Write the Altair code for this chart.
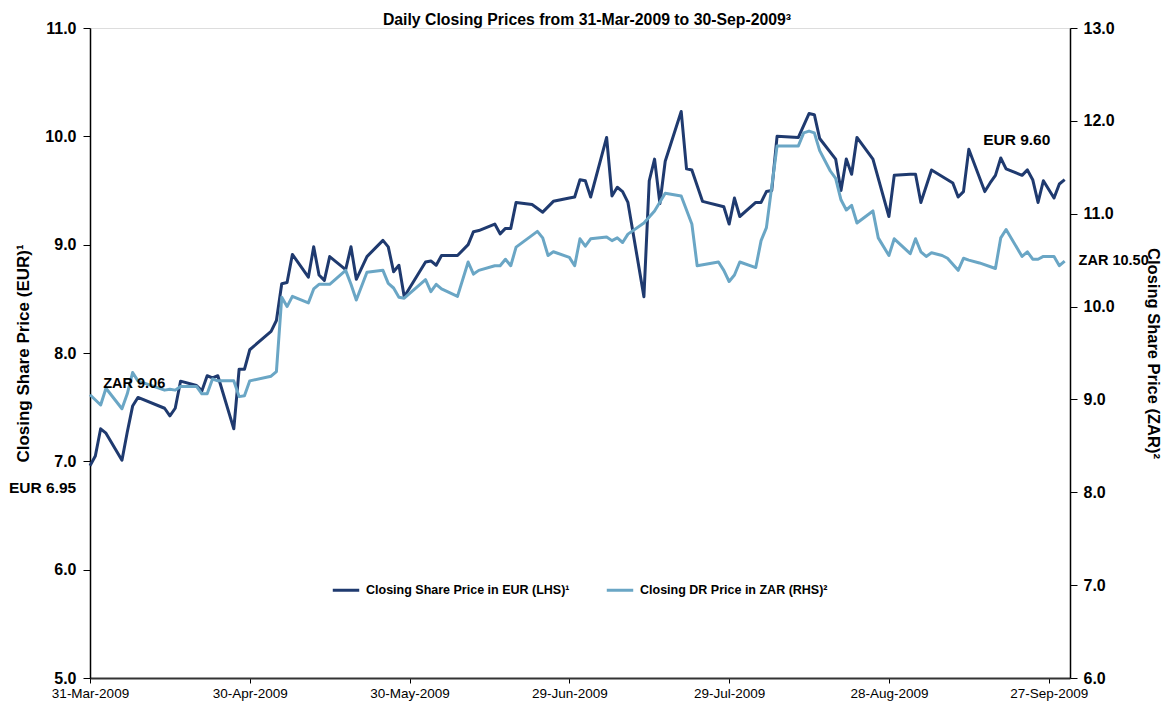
import altair as alt
import pandas as pd

TITLE = "Daily Closing Prices from 31-Mar-2009 to 30-Sep-2009³"
START = "2009-03-31"

series_names = ["Closing Share Price in EUR (LHS)¹", "Closing DR Price in ZAR (RHS)²"]
series_colors = ["#1f3a6f", "#6aa6c5"]

# days after 31-Mar-2009
eur_day = [0, 1, 2, 3, 6, 7, 8, 9, 14, 15, 16, 17, 20, 21, 22, 23, 24, 27, 28, 29,
           30, 34, 35, 36, 37, 38, 41, 42, 43, 44, 45, 48, 49, 50, 52, 55, 56, 57, 58, 59,
           63, 64, 65, 66, 69, 71, 72, 73, 76, 77, 78, 79, 80, 83, 85, 87, 90, 91, 92, 93,
           94, 97, 98, 99, 100, 101, 104, 105, 106, 107, 108, 111, 112, 113, 115, 119, 120,
           121, 122, 125, 126, 127, 128, 129, 133, 135, 136, 137, 140, 141, 142, 143, 144,
           147, 150, 151, 154, 155, 156, 158, 161, 162, 163, 164, 165, 168, 169, 170, 171,
           172, 175, 176, 177, 178, 179, 181, 182, 183]
eur_price = [6.96, 7.05, 7.30, 7.26, 7.01, 7.27, 7.51, 7.59, 7.49, 7.42, 7.49, 7.74, 7.70,
             7.65, 7.79, 7.77, 7.79, 7.30, 7.85, 7.85,
             8.03, 8.20, 8.30, 8.64, 8.65, 8.91, 8.70, 8.98, 8.72, 8.67, 8.89, 8.77, 8.98,
             8.68, 8.89, 9.04, 8.98, 8.75, 8.81, 8.52,
             8.84, 8.85, 8.81, 8.90, 8.90, 9.00, 9.12, 9.13, 9.19, 9.10, 9.15, 9.15, 9.39,
             9.37, 9.30, 9.40, 9.43, 9.44, 9.60, 9.59,
             9.44, 9.99, 9.45, 9.53, 9.49, 9.39, 8.52, 9.59, 9.79, 9.38, 9.77, 10.23, 9.70,
             9.69, 9.40, 9.35, 9.19,
             9.43, 9.26, 9.39, 9.39, 9.49, 9.50, 10.00, 9.99, 10.21, 10.20, 9.98, 9.79, 9.50,
             9.79, 9.65, 9.99,
             9.79, 9.26, 9.64, 9.65, 9.65, 9.39, 9.69, 9.60, 9.57, 9.44, 9.49, 9.88, 9.49,
             9.57, 9.64, 9.80,
             9.70, 9.64, 9.69, 9.60, 9.39, 9.59, 9.43, 9.56, 9.60]

zar_day = [0, 2, 3, 6, 7, 8, 9, 14, 15, 16, 17, 20, 21, 22, 23, 24, 27, 28, 29, 30,
           34, 35, 36, 37, 38, 41, 42, 43, 45, 48, 49, 50, 52, 55, 56, 57, 58, 59, 63, 64,
           65, 66, 69, 71, 72, 73, 76, 77, 78, 79, 80, 84, 85, 86, 87, 90, 91, 92, 93, 94,
           97, 98, 99, 100, 101, 104, 106, 108, 111, 113, 114, 118, 119, 120, 121, 122, 125,
           126, 127, 129, 133, 134, 135, 136, 137, 139, 140, 141, 142, 143, 144, 147, 148,
           150, 151, 154, 155, 156, 157, 158, 160, 161, 163, 164, 165, 167, 170, 171, 172,
           175, 176, 177, 178, 179, 181, 182, 183]
zar_price = [9.05, 8.94, 9.12, 8.90, 9.06, 9.29, 9.20, 9.10, 9.11, 9.10, 9.14, 9.14, 9.06,
             9.06, 9.22, 9.20, 9.20, 9.03, 9.04, 9.20,
             9.25, 9.30, 10.10, 10.00, 10.11, 10.04, 10.19, 10.24, 10.24, 10.39, 10.24, 10.07,
             10.37, 10.39, 10.25, 10.20, 10.10, 10.09, 10.29, 10.16,
             10.24, 10.19, 10.11, 10.48, 10.35, 10.39, 10.44, 10.44, 10.51, 10.44, 10.64,
             10.81, 10.74, 10.55, 10.59, 10.53, 10.44, 10.73, 10.65, 10.73,
             10.75, 10.71, 10.74, 10.69, 10.78, 10.90, 11.03, 11.22, 11.19, 10.89, 10.44,
             10.48, 10.39, 10.27, 10.34, 10.48, 10.42,
             10.71, 10.85, 11.73, 11.73, 11.87, 11.89, 11.87, 11.68, 11.46, 11.38, 11.15,
             11.04, 11.09, 10.90, 11.03, 10.74,
             10.55, 10.73, 10.57, 10.73, 10.59, 10.54, 10.58, 10.55, 10.52, 10.39, 10.52,
             10.50, 10.47, 10.41, 10.74, 10.83,
             10.54, 10.59, 10.51, 10.51, 10.54, 10.54, 10.44, 10.49]

x_tick_dates = [(2009, 3, 31), (2009, 4, 30), (2009, 5, 30), (2009, 6, 29),
                (2009, 7, 29), (2009, 8, 28), (2009, 9, 27)]
x_domain = [(2009, 3, 31), (2009, 10, 1)]

eur_note_text = ["EUR 6.95", "EUR 9.60"]
eur_note_day = [-8.9, 174.0]
eur_note_val = [6.75, 9.97]
zar_note_text = ["ZAR 10.50", "ZAR 9.06"][::-1]
zar_note_day = [8.3, 192.2]
zar_note_val = [9.17, 10.49]

FONT = "Liberation Sans"


def to_dates(days):
    base = pd.Timestamp(START)
    return [(base + pd.to_timedelta(d, unit="D")).strftime("%Y-%m-%dT%H:%M:%SZ") for d in days]


def dt(t):
    return alt.DateTime(year=t[0], month=t[1], date=t[2], utc=True)


eur_df = pd.DataFrame({"date": to_dates(eur_day), "price": eur_price, "series": series_names[0]})
zar_df = pd.DataFrame({"date": to_dates(zar_day), "price": zar_price, "series": series_names[1]})
eur_notes = pd.DataFrame({"date": to_dates(eur_note_day), "price": eur_note_val, "label": eur_note_text})
zar_notes = pd.DataFrame({"date": to_dates(zar_note_day), "price": zar_note_val, "label": zar_note_text})

x_axis = alt.Axis(values=[dt(t) for t in x_tick_dates], format="%d-%b-%Y", title=None,
                  grid=False, labelFont=FONT, labelFontSize=13.5, labelColor="#000",
                  labelFlush=False, labelOverlap=False, labelPadding=3, tickSize=5,
                  tickColor="#000", domainColor="#333", domainWidth=2)
x_scale = alt.Scale(type="utc", domain=[dt(t) for t in x_domain])
x_enc = alt.X("date:T", scale=x_scale, axis=x_axis)

color_enc = alt.Color("series:N",
                      scale=alt.Scale(domain=series_names, range=series_colors),
                      legend=alt.Legend(orient="none", legendX=241, legendY=547,
                                        direction="horizontal", title=None,
                                        symbolType="stroke", symbolStrokeWidth=3,
                                        symbolSize=700, labelFont=FONT, labelFontSize=12.5,
                                        labelFontWeight="bold", labelColor="#000",
                                        labelLimit=0, columnPadding=30, padding=0,
                                        labelOffset=5))

eur_axis = alt.Axis(values=[5, 6, 7, 8, 9, 10, 11], format=".1f", grid=False,
                    title="Closing Share Price (EUR)¹", titleFont=FONT, titleFontSize=17,
                    titleFontWeight="bold", titleColor="#000", titlePadding=12,
                    labelFont=FONT, labelFontSize=16, labelFontWeight="bold",
                    labelColor="#000", labelPadding=7, tickSize=7, tickColor="#000",
                    domainColor="#000", domainWidth=1.5)
zar_axis = alt.Axis(orient="right", values=[6, 7, 8, 9, 10, 11, 12, 13], format=".1f",
                    grid=False, title="Closing Share Price (ZAR)²", titleFont=FONT,
                    titleFontSize=16.5, titleFontWeight="bold", titleColor="#000",
                    titleAngle=90, titlePadding=30,
                    labelFont=FONT, labelFontSize=16, labelFontWeight="bold",
                    labelColor="#000", labelPadding=6, tickSize=7, tickColor="#000",
                    domainColor="#000", domainWidth=1.5)

eur_scale = alt.Scale(domain=[5, 11], nice=False, zero=False)
zar_scale = alt.Scale(domain=[6, 13], nice=False, zero=False)

eur_line = alt.Chart(eur_df).mark_line(strokeWidth=3, strokeJoin="round").encode(
    x=x_enc, y=alt.Y("price:Q", scale=eur_scale, axis=eur_axis), color=color_enc)
eur_text = alt.Chart(eur_notes).mark_text(font=FONT, fontSize=15.5, fontWeight="bold",
                                          color="#000", align="center", baseline="middle").encode(
    x=x_enc, y=alt.Y("price:Q", scale=eur_scale, axis=eur_axis), text="label:N")

zar_line = alt.Chart(zar_df).mark_line(strokeWidth=3, strokeJoin="round").encode(
    x=x_enc, y=alt.Y("price:Q", scale=zar_scale, axis=zar_axis), color=color_enc)
zar_text = alt.Chart(zar_notes).mark_text(font=FONT, fontSize=14.5, fontWeight="bold",
                                          color="#000", align="center", baseline="middle").encode(
    x=x_enc, y=alt.Y("price:Q", scale=zar_scale, axis=zar_axis), text="label:N")

chart = alt.layer(
    alt.layer(eur_line, eur_text),
    alt.layer(zar_line, zar_text),
).resolve_scale(y="independent").properties(
    width=980, height=650,
    title=alt.TitleParams(TITLE, font=FONT, fontSize=15.8, fontWeight="bold", color="#000",
                          anchor="middle", offset=-8.5, dx=7),
    autosize=alt.AutoSizeParams(type="none"),
    padding={"left": 82, "top": 20, "right": 96, "bottom": 23},
).configure_view(stroke=None).configure(background="white")

chart.save("out.html", embed_options={"renderer": "svg", "actions": False})
